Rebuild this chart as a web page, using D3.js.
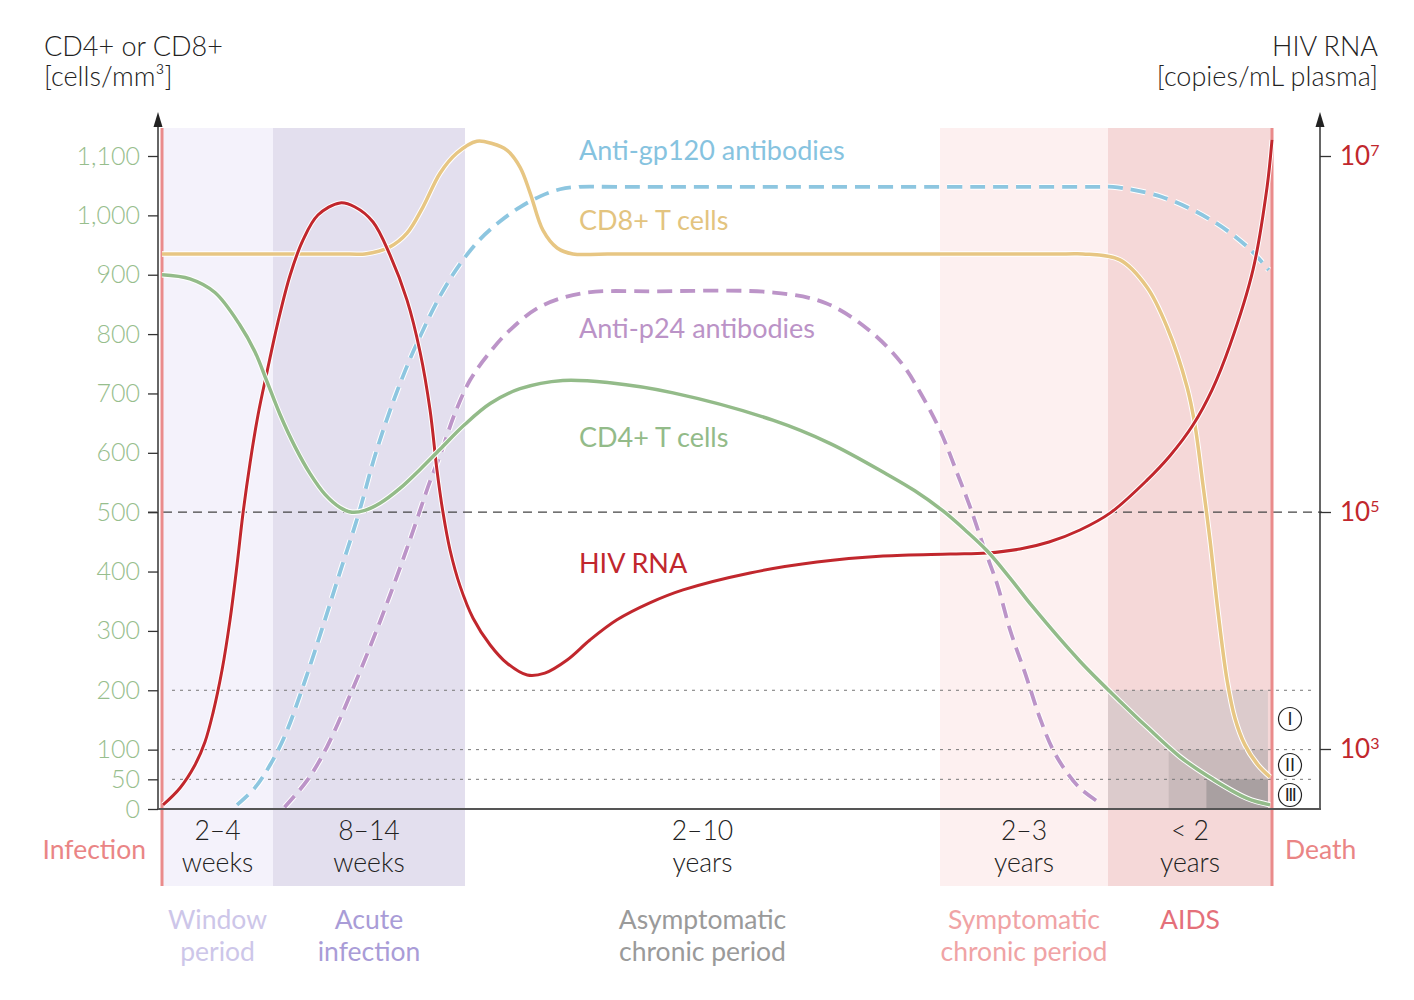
<!DOCTYPE html>
<html>
<head>
<meta charset="utf-8">
<script src="https://cdn.jsdelivr.net/npm/d3@7"></script>
<style>
  body { margin: 0; background: #fff; }
  svg text { font-family: Lato, "Open Sans", sans-serif; }
</style>
</head>
<body>
<div id="chart"></div>
<script>
// Phases of infection (x is measured in phase units: 0 = infection, 5 = death)
const phaseDurations = [["2–4", "weeks"], ["8–14", "weeks"], ["2–10", "years"], ["2–3", "years"], ["< 2", "years"]];
const phaseNames = [["Window", "period"], ["Acute", "infection"], ["Asymptomatic", "chronic period"], ["Symptomatic", "chronic period"], ["AIDS"]];

// left axis ticks (cells/mm3) and right axis ticks (copies/mL)
const leftTicks = [0, 50, 100, 200, 300, 400, 500, 600, 700, 800, 900, 1000, 1100];
const rightTicks = [1e3, 1e5, 1e7];

// CD4 thresholds for the clinical stages
const stageNames = ["I", "II", "III"];
const stageLevels = [200, 100, 50];
const stageStart = [4.0, 4.37, 4.6];

// series: [phase position, value]
const cd4 = [[0, 900], [0.252, 893], [0.477, 870], [0.703, 815], [0.838, 770], [0.946, 720], [1.036, 665],
  [1.115, 610], [1.193, 565], [1.271, 530], [1.349, 508], [1.411, 500], [1.479, 503], [1.557, 515],
  [1.661, 540], [1.766, 572], [1.870, 606], [2.0, 648], [2.053, 683], [2.116, 708], [2.206, 722],
  [2.305, 718], [2.438, 701], [2.648, 655], [2.768, 616], [2.888, 564], [2.947, 536], [3.018, 502],
  [3.149, 470], [3.280, 435], [3.417, 389], [3.548, 342], [3.833, 249], [4.079, 180], [4.238, 138],
  [4.439, 88], [4.640, 50], [4.848, 18], [4.988, 7]];
const cd8 = [[0, 935], [1.40, 935], [1.479, 935], [1.609, 947], [1.698, 970], [1.781, 1014], [1.870, 1071], [1.958, 1105],
  [2.025, 1125], [2.057, 1121], [2.088, 1110], [2.116, 1081], [2.137, 1038], [2.164, 975], [2.194, 945],
  [2.227, 935], [2.3, 935], [3.75, 935], [3.851, 935], [4.073, 925], [4.238, 879], [4.360, 812], [4.482, 711], [4.530, 647],
  [4.579, 546], [4.622, 453], [4.671, 332], [4.726, 217], [4.774, 153], [4.835, 108], [4.915, 74], [4.988, 54]];
const hivRna = [[0.009, 337], [0.162, 469], [0.297, 733], [0.387, 1146], [0.459, 2010], [0.541, 4640],
  [0.613, 12300], [0.676, 35700], [0.730, 98000], [0.793, 1.88e5], [0.865, 3.51e5], [0.946, 6.12e5],
  [1.026, 1.17e6], [1.089, 2.14e6], [1.156, 3.37e6], [1.234, 4.66e6], [1.349, 5.45e6], [1.427, 5.17e6],
  [1.521, 4.26e6], [1.609, 2.78e6], [1.698, 1.55e6], [1.766, 7.92e5], [1.818, 3.74e5], [1.854, 1.72e5],
  [1.885, 1.0e5], [1.922, 47800], [1.974, 23800], [2.017, 12700], [2.053, 7550], [2.088, 5320], [2.131, 4210],
  [2.168, 4370], [2.215, 5640], [2.263, 8310], [2.320, 12300], [2.389, 17100], [2.459, 22000], [2.600, 30600],
  [2.741, 37800], [2.880, 42500], [3.060, 44200], [3.280, 45100], [3.476, 48700], [3.649, 55800],
  [3.833, 70500], [4.012, 97800], [4.238, 1.51e5], [4.378, 2.07e5], [4.518, 3.08e5], [4.634, 4.84e5],
  [4.744, 8.67e5], [4.884, 2.29e6], [4.970, 6.7e6], [5.0, 1.23e7]];
const antiGp120 = [[0.676, 7], [0.838, 36], [0.973, 74], [1.064, 125], [1.156, 206], [1.255, 303], [1.349, 399],
  [1.443, 494], [1.531, 595], [1.609, 671], [1.688, 738], [1.766, 796], [1.870, 864], [1.974, 918],
  [2.032, 960], [2.074, 990], [2.116, 1014], [2.158, 1032], [2.2, 1044], [2.24, 1048], [2.32, 1048],
  [3.95, 1048], [4.03, 1048], [4.33, 1031], [4.63, 992], [4.85, 947], [4.98, 908]];
const antiP24 = [[1.06, 3], [1.18, 49], [1.28, 104], [1.42, 206], [1.56, 318], [1.70, 441], [1.82, 554],
  [1.875, 600], [1.948, 667], [2.011, 723], [2.053, 770], [2.095, 807], [2.158, 846], [2.248, 869], [2.4, 872],
  [2.65, 870], [2.76, 852], [2.85, 807], [2.92, 750], [2.958, 702], [3.0, 638], [3.095, 571], [3.179, 509],
  [3.262, 440], [3.34, 379], [3.42, 299], [3.51, 226], [3.59, 157], [3.667, 103], [3.744, 66], [3.833, 35],
  [3.952, 10]];

const width = 1414, height = 1000;
const plotTop = 128, plotBottom = 809, bandBottom = 886;

const svg = d3.select('#chart').append('svg')
  .attr('width', width)
  .attr('height', height);

// scales
const x = d3.scaleLinear().domain([0, 1, 2, 3, 4, 5]).range([162, 273, 465, 940, 1108, 1272]);
const yLeft = d3.scaleLinear().domain([0, 1100]).range([plotBottom, 156]);
const yRight = d3.scaleLog().domain([1e3, 1e5, 1e7]).range([749, 512, 156]);

// phase bands
const bandColors = ['#f4f2fb', '#e3dfee', '#ffffff', '#fdf0f0', '#f5d8d8'];
svg.append('g').selectAll('rect')
  .data(d3.range(5))
  .enter().append('rect')
  .attr('x', i => x(i))
  .attr('y', plotTop)
  .attr('width', i => x(i + 1) - x(i))
  .attr('height', bandBottom - plotTop)
  .attr('fill', i => bandColors[i]);

// CD4 stage boxes
const stageColors = ['#dccbcc', '#c9babb', '#a9a0a1'];
svg.append('g').selectAll('rect')
  .data(d3.range(3))
  .enter().append('rect')
  .attr('x', i => x(stageStart[i]))
  .attr('y', i => yLeft(stageLevels[i]))
  .attr('width', i => x(4.975) - x(stageStart[i]))
  .attr('height', i => plotBottom - yLeft(stageLevels[i]))
  .attr('fill', i => stageColors[i]);

// dotted threshold lines
svg.append('g').selectAll('line')
  .data(stageLevels)
  .enter().append('line')
  .attr('x1', 172).attr('x2', 1316)
  .attr('y1', d => yLeft(d)).attr('y2', d => yLeft(d))
  .attr('stroke', '#777')
  .attr('stroke-width', 1)
  .attr('stroke-dasharray', '3,5');

// 500 dashed line
svg.append('line')
  .attr('x1', 148).attr('x2', 1322)
  .attr('y1', yLeft(500)).attr('y2', yLeft(500))
  .attr('stroke', '#444')
  .attr('stroke-width', 1.3)
  .attr('stroke-dasharray', '9,6');

// stage circles
const stages = svg.append('g').selectAll('g')
  .data(d3.range(3))
  .enter().append('g')
  .attr('transform', i => `translate(1290,${[719, 765, 795][i]})`);
stages.append('circle')
  .attr('r', 11.5)
  .attr('fill', '#fff')
  .attr('stroke', '#222')
  .attr('stroke-width', 1.2);
stages.append('text')
  .attr('text-anchor', 'middle')
  .attr('dy', '0.36em')
  .style('font-size', '17px')
  .style('font-family', '"DejaVu Sans", sans-serif')
  .style('letter-spacing', i => i === 2 ? '-1.5px' : '0px')
  .style('fill', '#222')
  .text(i => stageNames[i]);

// infection / death lines
svg.append('g').selectAll('line')
  .data([0, 5])
  .enter().append('line')
  .attr('x1', d => x(d)).attr('x2', d => x(d))
  .attr('y1', plotTop).attr('y2', bandBottom)
  .attr('stroke', '#ea8b8b')
  .attr('stroke-width', 3);

// curves
const series = [
  { data: cd8, y: yLeft, color: '#e7c683', width: 3.5, dash: null },
  { data: antiGp120, y: yLeft, color: '#8dc6e0', width: 3.8, dash: '15,8' },
  { data: antiP24, y: yLeft, color: '#bc94c8', width: 3.8, dash: '15,8' },
  { data: hivRna, y: yRight, color: '#c1272d', width: 3, dash: null },
  { data: cd4, y: yLeft, color: '#93bb89', width: 3.5, dash: null }
];

series.forEach(s => {
  const line = d3.line()
    .x(d => x(d[0]))
    .y(d => s.y(d[1]))
    .curve(d3.curveCatmullRom.alpha(0.5));
  svg.append('path')
    .datum(s.data)
    .attr('d', line)
    .attr('fill', 'none')
    .attr('stroke', '#fff')
    .attr('stroke-width', s.width + 2)
    .attr('stroke-dasharray', s.dash);
  svg.append('path')
    .datum(s.data)
    .attr('d', line)
    .attr('fill', 'none')
    .attr('stroke', s.color)
    .attr('stroke-width', s.width)
    .attr('stroke-dasharray', s.dash);
});

// series labels
const seriesLabels = [
  { text: 'Anti-gp120 antibodies', at: 1109, color: '#86c3df' },
  { text: 'CD8+ T cells', at: 992, color: '#e3c47f' },
  { text: 'Anti-p24 antibodies', at: 810, color: '#bb93c7' },
  { text: 'CD4+ T cells', at: 625, color: '#93bb89' },
  { text: 'HIV RNA', at: 414, color: '#c1272d' }
];
svg.append('g').selectAll('text')
  .data(seriesLabels)
  .enter().append('text')
  .attr('x', x(2.24))
  .attr('y', d => yLeft(d.at))
  .attr('dy', '0.35em')
  .style('font-size', '27px')
  .style('fill', d => d.color)
  .text(d => d.text);

// axes lines
svg.append('line')
  .attr('x1', 158).attr('x2', 158).attr('y1', 122).attr('y2', plotBottom)
  .attr('stroke', '#333').attr('stroke-width', 1.5);
svg.append('line')
  .attr('x1', 1320).attr('x2', 1320).attr('y1', 122).attr('y2', plotBottom)
  .attr('stroke', '#333').attr('stroke-width', 1.5);
svg.append('line')
  .attr('x1', 157).attr('x2', 1321).attr('y1', plotBottom).attr('y2', plotBottom)
  .attr('stroke', '#555').attr('stroke-width', 2);
[158, 1320].forEach(ax => {
  svg.append('path')
    .attr('d', `M${ax},112L${ax - 4.5},127L${ax + 4.5},127Z`)
    .attr('fill', '#222');
});

const leftAxis = svg.append('g')
  .attr('transform', 'translate(158,0)')
  .call(d3.axisLeft(yLeft).tickValues(leftTicks).tickSize(10).tickPadding(8).tickFormat(d3.format(',')));
leftAxis.select('.domain').remove();
leftAxis.selectAll('line').attr('stroke', '#333').attr('stroke-width', 1.3);
leftAxis.selectAll('text')
  .style('font-size', '25px')
  .style('font-weight', 300)
  .style('font-family', 'Lato, sans-serif')
  .attr('fill', '#97be8d');

const rightAxis = svg.append('g')
  .attr('transform', 'translate(1320,0)')
  .call(d3.axisRight(yRight).tickValues(rightTicks).tickSize(11).tickPadding(9).tickFormat(''));
rightAxis.select('.domain').remove();
rightAxis.selectAll('line').attr('stroke', '#333').attr('stroke-width', 1.3);
rightAxis.selectAll('.tick text')
  .style('font-size', '26px')
  .style('font-family', 'Lato, sans-serif')
  .attr('fill', '#c1272d')
  .each(function (d) {
    const t = d3.select(this);
    t.append('tspan').text('10');
    t.append('tspan')
      .attr('dy', '-0.55em')
      .style('font-size', '16px')
      .text(Math.round(Math.log10(d)));
  });

// axis titles
const titles = [
  { x: 44, y: 47, anchor: 'start', text: 'CD4+ or CD8+' },
  { x: 44, y: 77, anchor: 'start', text: '[cells/mm³]' },
  { x: 1378, y: 47, anchor: 'end', text: 'HIV RNA' },
  { x: 1378, y: 77, anchor: 'end', text: '[copies/mL plasma]' }
];
svg.append('g').selectAll('text')
  .data(titles)
  .enter().append('text')
  .attr('x', d => d.x)
  .attr('y', d => d.y)
  .attr('dy', '0.35em')
  .attr('text-anchor', d => d.anchor)
  .style('font-size', '27px')
  .style('font-weight', 300)
  .style('fill', '#222')
  .text(d => d.text);

// phase durations
const dur = svg.append('g').selectAll('text')
  .data(phaseDurations)
  .enter().append('text')
  .attr('text-anchor', 'middle')
  .style('font-size', '26.5px')
  .style('font-weight', 300)
  .style('fill', '#222');
dur.append('tspan')
  .attr('x', (d, i) => (x(i) + x(i + 1)) / 2)
  .attr('y', 840)
  .text(d => d[0]);
dur.append('tspan')
  .attr('x', (d, i) => (x(i) + x(i + 1)) / 2)
  .attr('y', 872)
  .text(d => d[1]);

// phase names
const nameColors = ['#cdc6e9', '#a99cd7', '#9a9a9a', '#f0a3a5', '#e4707a'];
const names = svg.append('g').selectAll('text')
  .data(phaseNames)
  .enter().append('text')
  .attr('text-anchor', 'middle')
  .style('font-size', '26.5px')
  .style('fill', (d, i) => nameColors[i]);
names.each(function (d, i) {
  const t = d3.select(this);
  d.forEach((ln, k) => {
    t.append('tspan')
      .attr('x', (x(i) + x(i + 1)) / 2)
      .attr('y', 929 + k * 32)
      .text(ln);
  });
});

// infection and death labels
svg.append('text')
  .attr('x', 146).attr('y', 850).attr('dy', '0.35em')
  .attr('text-anchor', 'end')
  .style('font-size', '26.5px')
  .style('fill', '#ea8585')
  .text('Infection');
svg.append('text')
  .attr('x', 1285).attr('y', 850).attr('dy', '0.35em')
  .style('font-size', '26.5px')
  .style('fill', '#ea8585')
  .text('Death');
</script>
</body>
</html>
